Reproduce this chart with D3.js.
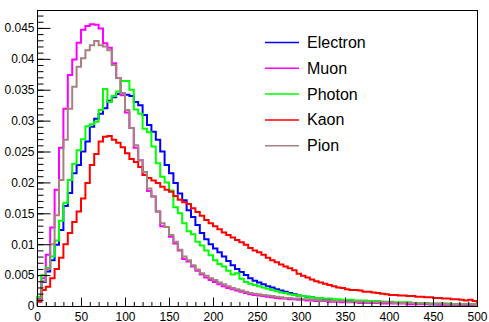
<!DOCTYPE html>
<html>
<head>
<meta charset="utf-8">
<script src="https://cdn.jsdelivr.net/npm/d3@7"></script>
<style>
  html, body { margin: 0; background: #fff; }
  text { font-family: "Liberation Sans", Arial, sans-serif; }
</style>
</head>
<body>
<svg id="chart" width="489" height="322"></svg>
<script>
  // 100 bins of width 5 between 0 and 500
  const binEdges = d3.range(0, 505, 5);
  const particles = ["Electron", "Muon", "Photon", "Kaon", "Pion"];
  const colors = ["#0000ff", "#ff00ff", "#00ff00", "#ff0000", "#a88080"];
  const yTicks = [0, 0.005, 0.01, 0.015, 0.02, 0.025, 0.03, 0.035, 0.04, 0.045];
  const yTickLabels = ["0", "0.005", "0.01", "0.015", "0.02", "0.025", "0.03", "0.035", "0.04", "0.045"];
  const xTicks = [0, 50, 100, 150, 200, 250, 300, 350, 400, 450, 500];

  const electron = [
    0.0010, 0.0039, 0.0056, 0.0074, 0.0099, 0.0123, 0.0162, 0.0183, 0.0215, 0.0228,
    0.0250, 0.0266, 0.0290, 0.0303, 0.0311, 0.0320, 0.0332, 0.0338, 0.0343, 0.0344,
    0.0342, 0.0340, 0.0330, 0.0325, 0.0309, 0.0293, 0.0282, 0.0269, 0.0250, 0.0228,
    0.0215, 0.0199, 0.0182, 0.0171, 0.0155, 0.0144, 0.0131, 0.0118, 0.0108, 0.0100,
    0.0093, 0.0087, 0.0080, 0.0073, 0.0066, 0.0060, 0.0055, 0.0050, 0.0045, 0.0041,
    0.0038, 0.0035, 0.0032, 0.0030, 0.0027, 0.0025, 0.0023, 0.0021, 0.0019, 0.0017,
    0.0016, 0.0015, 0.0014, 0.0013, 0.0012, 0.0011, 0.0010, 0.0010, 0.0009, 0.0009,
    0.0008, 0.0008, 0.0008, 0.0007, 0.0007, 0.0007, 0.0006, 0.0006, 0.0006, 0.0006,
    0.0005, 0.0005, 0.0005, 0.0005, 0.0004, 0.0004, 0.0004, 0.0004, 0.0004, 0.0003,
    0.0003, 0.0003, 0.0003, 0.0003, 0.0003, 0.0003, 0.0002, 0.0002, 0.0002, 0.0002
  ];
  const muon = [
    0.0012, 0.0045, 0.0083, 0.0127, 0.0188, 0.0256, 0.0319, 0.0374, 0.0399, 0.0426,
    0.0447, 0.0453, 0.0456, 0.0455, 0.0449, 0.0425, 0.0418, 0.0393, 0.0369, 0.0341,
    0.0313, 0.0288, 0.0256, 0.0236, 0.0212, 0.0186, 0.0177, 0.0153, 0.0129, 0.0128,
    0.0112, 0.0101, 0.0090, 0.0076, 0.0072, 0.0064, 0.0057, 0.0051, 0.0046, 0.0042,
    0.0039, 0.0035, 0.0032, 0.0029, 0.0027, 0.0025, 0.0023, 0.0021, 0.0019, 0.0018,
    0.0017, 0.0016, 0.0015, 0.0014, 0.0013, 0.0012, 0.0012, 0.0011, 0.0011, 0.0010,
    0.0010, 0.0009, 0.0009, 0.0008, 0.0008, 0.0008, 0.0007, 0.0007, 0.0007, 0.0006,
    0.0006, 0.0006, 0.0006, 0.0005, 0.0005, 0.0005, 0.0005, 0.0005, 0.0004, 0.0004,
    0.0004, 0.0004, 0.0004, 0.0004, 0.0003, 0.0003, 0.0003, 0.0003, 0.0003, 0.0003,
    0.0003, 0.0002, 0.0002, 0.0002, 0.0002, 0.0002, 0.0002, 0.0002, 0.0002, 0.0001
  ];
  const photon = [
    0.0015, 0.0050, 0.0062, 0.0080, 0.0106, 0.0138, 0.0167, 0.0204, 0.0230, 0.0252,
    0.0270, 0.0291, 0.0294, 0.0298, 0.0317, 0.0351, 0.0330, 0.0340, 0.0347, 0.0364,
    0.0364, 0.0350, 0.0318, 0.0311, 0.0287, 0.0281, 0.0258, 0.0231, 0.0209, 0.0200,
    0.0187, 0.0160, 0.0150, 0.0134, 0.0121, 0.0116, 0.0104, 0.0098, 0.0090, 0.0082,
    0.0074, 0.0068, 0.0064, 0.0057, 0.0051, 0.0053, 0.0044, 0.0039, 0.0036, 0.0034,
    0.0032, 0.0030, 0.0028, 0.0026, 0.0024, 0.0022, 0.0021, 0.0019, 0.0018, 0.0017,
    0.0016, 0.0015, 0.0014, 0.0013, 0.0013, 0.0012, 0.0012, 0.0011, 0.0011, 0.0010,
    0.0010, 0.0010, 0.0009, 0.0009, 0.0009, 0.0008, 0.0008, 0.0008, 0.0007, 0.0007,
    0.0007, 0.0006, 0.0006, 0.0006, 0.0006, 0.0005, 0.0005, 0.0005, 0.0005, 0.0004,
    0.0004, 0.0004, 0.0004, 0.0004, 0.0003, 0.0003, 0.0003, 0.0003, 0.0003, 0.0003
  ];
  const kaon = [
    0.0007, 0.0026, 0.0031, 0.0045, 0.0060, 0.0078, 0.0100, 0.0118, 0.0136, 0.0153,
    0.0174, 0.0199, 0.0228, 0.0246, 0.0266, 0.0274, 0.0275, 0.0269, 0.0264, 0.0257,
    0.0247, 0.0238, 0.0233, 0.0225, 0.0212, 0.0207, 0.0203, 0.0199, 0.0193, 0.0188,
    0.0185, 0.0178, 0.0172, 0.0168, 0.0165, 0.0158, 0.0152, 0.0146, 0.0139, 0.0134,
    0.0129, 0.0124, 0.0119, 0.0115, 0.0111, 0.0107, 0.0103, 0.0099, 0.0094, 0.0090,
    0.0087, 0.0083, 0.0078, 0.0074, 0.0071, 0.0067, 0.0064, 0.0061, 0.0058, 0.0052,
    0.0049, 0.0046, 0.0043, 0.0040, 0.0038, 0.0036, 0.0034, 0.0032, 0.0030, 0.0029,
    0.0027, 0.0026, 0.0026, 0.0025, 0.0023, 0.0023, 0.0022, 0.0021, 0.0020, 0.0019,
    0.0018, 0.0018, 0.0017, 0.0017, 0.0016, 0.0016, 0.0015, 0.0015, 0.0014, 0.0014,
    0.0013, 0.0013, 0.0012, 0.0012, 0.0011, 0.0011, 0.0010, 0.0009, 0.0010, 0.0008
  ];
  const pion = [
    0.0010, 0.0040, 0.0060, 0.0100, 0.0147, 0.0204, 0.0269, 0.0319, 0.0355, 0.0387,
    0.0401, 0.0414, 0.0422, 0.0429, 0.0422, 0.0420, 0.0414, 0.0390, 0.0369, 0.0344,
    0.0317, 0.0288, 0.0260, 0.0236, 0.0217, 0.0190, 0.0177, 0.0153, 0.0134, 0.0128,
    0.0115, 0.0104, 0.0091, 0.0080, 0.0074, 0.0066, 0.0059, 0.0053, 0.0049, 0.0045,
    0.0042, 0.0038, 0.0035, 0.0032, 0.0029, 0.0027, 0.0025, 0.0023, 0.0021, 0.0020,
    0.0019, 0.0018, 0.0017, 0.0016, 0.0015, 0.0014, 0.0013, 0.0013, 0.0012, 0.0012,
    0.0011, 0.0011, 0.0010, 0.0010, 0.0009, 0.0009, 0.0009, 0.0008, 0.0008, 0.0008,
    0.0007, 0.0007, 0.0007, 0.0007, 0.0006, 0.0006, 0.0006, 0.0006, 0.0006, 0.0006,
    0.0006, 0.0005, 0.0005, 0.0005, 0.0005, 0.0005, 0.0004, 0.0004, 0.0004, 0.0004,
    0.0004, 0.0004, 0.0004, 0.0003, 0.0003, 0.0003, 0.0003, 0.0003, 0.0003, 0.0003
  ];
  const series = [electron, muon, photon, kaon, pion];

  const svg = d3.select("#chart");
  const padL = 37, padR = 477, padT = 10, padB = 306;

  const x = d3.scaleLinear().domain([0, 500]).range([padL, padR]);
  const y = d3.scaleLinear().domain([0, 0.0479]).range([padB, padT]);

  // histograms as step lines
  const stepPath = vals => {
    const pts = [[0, 0]];
    vals.forEach((v, i) => {
      pts.push([binEdges[i], v]);
      pts.push([binEdges[i + 1], v]);
    });
    pts.push([500, 0]);
    return d3.line().x(d => x(d[0])).y(d => y(d[1]))(pts);
  };

  const g = svg.append("g");
  series.forEach((vals, k) => {
    g.append("path")
      .attr("d", stepPath(vals))
      .attr("fill", "none")
      .attr("stroke", colors[k])
      .attr("stroke-width", 2)
      .attr("stroke-linejoin", "miter");
  });

  // frame
  svg.append("rect")
    .attr("x", padL + 0.5).attr("y", padT + 0.5)
    .attr("width", padR - padL).attr("height", padB - padT)
    .attr("fill", "none").attr("stroke", "#000").attr("stroke-width", 1);

  // y axis, ticks pointing inside
  const yMinor = svg.append("g").attr("transform", `translate(${padL + 0.5},0)`)
    .call(d3.axisLeft(y).tickValues(d3.range(0, 0.0475, 0.001)).tickSize(-6).tickFormat(""));
  yMinor.select(".domain").remove();
  const yAxis = svg.append("g").attr("transform", `translate(${padL + 0.5},0)`)
    .call(d3.axisLeft(y).tickValues(yTicks).tickSize(-13).tickPadding(3)
      .tickFormat((d, i) => yTickLabels[i]));
  yAxis.select(".domain").remove();
  yAxis.selectAll("text").attr("font-size", 12).attr("fill", "#000")
    .style("font-family", "'Liberation Sans', Arial, sans-serif");

  // x axis
  const xMinor = svg.append("g").attr("transform", `translate(0,${padB + 0.5})`)
    .call(d3.axisBottom(x).tickValues(d3.range(0, 501, 10)).tickSize(-4.5).tickFormat(""));
  xMinor.select(".domain").remove();
  const xAxis = svg.append("g").attr("transform", `translate(0,${padB + 0.5})`)
    .call(d3.axisBottom(x).tickValues(xTicks).tickSize(-9).tickPadding(5.5));
  xAxis.select(".domain").remove();
  xAxis.selectAll("text").attr("font-size", 12).attr("fill", "#000")
    .style("font-family", "'Liberation Sans', Arial, sans-serif");
  svg.selectAll(".tick line").attr("stroke", "#000");

  // legend
  const legend = svg.append("g");
  particles.forEach((name, k) => {
    const ly = 42.5 + k * 25.8;
    legend.append("line")
      .attr("x1", 265).attr("x2", 299).attr("y1", ly).attr("y2", ly)
      .attr("stroke", colors[k]).attr("stroke-width", 1.5);
    legend.append("text")
      .attr("x", 307).attr("y", ly + 5.5)
      .attr("font-size", 16).attr("fill", "#000")
      .text(name);
  });
</script>
</body>
</html>
